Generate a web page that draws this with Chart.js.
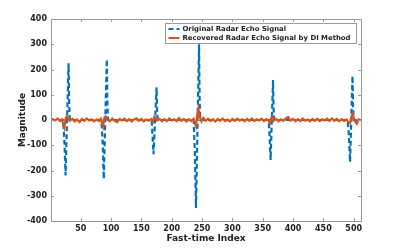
<!DOCTYPE html>
<html><head><meta charset="utf-8">
<script src="https://cdn.jsdelivr.net/npm/chart.js@4/dist/chart.umd.min.js"></script>
<style>html,body{margin:0;padding:0;background:#fff}#wrap{width:399px;height:249px}</style>
</head><body><div id="wrap"><canvas id="c" width="399" height="249"></canvas></div>
<script>
const seriesNames = ["Original Radar Echo Signal", "Recovered Radar Echo Signal by DI Method"];
const xTicks = [50,100,150,200,250,300,350,400,450,500];
const yTicks = [-400,-300,-200,-100,0,100,200,300,400];
const xLabel = "Fast-time Index";
const yLabel = "Magnitude";

const originalX = [1,21,23,25,30,31,32,84,86,88,93,94,95,167,168,170,175,176,177,236,238,240,245,246,247,360,361,363,367,368,369,490,492,494,498,499,500,512];
const originalY = [0,0,-80,-220,225,60,0,0,-80,-233,240,60,0,0,-50,-135,130,30,0,0,-120,-348,300,80,0,0,-50,-158,158,40,0,0,-60,-166,174,50,0,0];

const recoveredX = [1,4,8,12,16,19,21,23,25,27,29,32,36,40,44,48,52,56,60,64,68,72,76,80,83,85,87,89,91,94,98,102,106,110,114,118,122,126,130,134,138,142,146,150,154,158,162,166,169,171,173,176,180,184,188,192,196,200,204,208,212,216,220,224,228,232,236,238,240,242,244,246,249,252,256,260,264,268,272,276,280,284,288,292,296,300,304,308,312,316,320,324,328,332,336,340,344,348,352,356,360,362,364,366,368,372,376,380,384,388,392,396,400,404,408,412,416,420,424,428,432,436,440,444,448,452,456,460,464,468,472,476,480,484,488,491,494,496,498,500,502,505,508,512];
const recoveredY = [-5,3,-2,6,-4,2,-15,-30,5,15,8,-3,5,-6,2,-8,4,-3,6,-2,3,-5,2,-4,5,-10,-25,10,14,2,-5,6,-3,-8,4,-2,5,-4,3,-6,2,7,-3,4,-5,2,-3,4,-6,12,10,-2,4,-5,3,-4,6,-2,3,-5,8,-3,4,-6,3,-4,5,-12,-25,20,45,15,-5,8,-3,5,-4,3,-6,4,-3,6,-4,2,-5,4,-3,5,-2,3,-5,4,-3,6,-4,3,-2,5,-4,3,-5,-12,8,12,-3,4,-5,3,-3,6,12,-2,4,-5,3,-4,6,-3,2,-5,4,-3,5,-4,3,-2,5,-4,6,-3,4,-5,3,-4,2,-8,-12,10,25,10,-5,-15,3,-2];

const BLUE = '#0072BD', ORANGE = '#D95319';
const FONT = "'DejaVu Sans', sans-serif";

const overlay = {
  id: 'overlay',
  afterDraw(chart) {
    const ctx = chart.ctx, a = chart.chartArea;
    const xs = chart.scales.x, ys = chart.scales.y;
    ctx.save();
    ctx.strokeStyle = '#9a9a9a';
    ctx.lineWidth = 1;
    ctx.strokeRect(Math.round(a.left)+0.5, Math.round(a.top)+0.5, Math.round(a.right-a.left), Math.round(a.bottom-a.top));
    ctx.beginPath();
    const tl = 3;
    xTicks.forEach(v => {
      const px = Math.round(xs.getPixelForValue(v)) + 0.5;
      ctx.moveTo(px, a.bottom); ctx.lineTo(px, a.bottom - tl);
      ctx.moveTo(px, a.top); ctx.lineTo(px, a.top + tl);
    });
    yTicks.forEach(v => {
      const py = Math.round(ys.getPixelForValue(v)) + 0.5;
      ctx.moveTo(a.left, py); ctx.lineTo(a.left + tl, py);
      ctx.moveTo(a.right, py); ctx.lineTo(a.right - tl, py);
    });
    ctx.stroke();
    // axis titles
    ctx.fillStyle = '#222';
    ctx.font = "bold 9px " + FONT;
    ctx.textAlign = 'center'; ctx.textBaseline = 'middle';
    ctx.fillText(xLabel, (a.left + a.right)/2, 239);
    ctx.save();
    ctx.translate(23, (a.top + a.bottom)/2);
    ctx.rotate(-Math.PI/2);
    ctx.fillText(yLabel, 0, 0);
    ctx.restore();
    // legend
    const lx = 165.5, ly = 23.5, lw = 191, lh = 20;
    ctx.fillStyle = '#fff';
    ctx.fillRect(lx, ly, lw, lh);
    ctx.strokeStyle = '#9a9a9a';
    ctx.strokeRect(lx, ly, lw, lh);
    const rows = [ly + 5.5, ly + 14.5];
    chart.data.datasets.forEach((ds, i) => {
      ctx.beginPath();
      ctx.strokeStyle = ds.borderColor;
      ctx.lineWidth = 2;
      ctx.setLineDash(ds.borderDash || []);
      ctx.moveTo(lx + 3, rows[i]); ctx.lineTo(lx + 14, rows[i]);
      ctx.stroke();
      ctx.setLineDash([]);
      ctx.fillStyle = '#222';
      ctx.font = "bold 6.9px " + FONT;
      ctx.textAlign = 'left';
      ctx.fillText(ds.label, lx + 17, rows[i] + 0.5);
    });
    ctx.restore();
  }
};

const toPts = (xs, ys) => xs.map((x, i) => ({x: x, y: ys[i]}));

new Chart(document.getElementById('c'), {
  type: 'line',
  data: {
    datasets: [
      { label: seriesNames[0], data: toPts(originalX, originalY), borderColor: BLUE, borderWidth: 2.2, borderDash: [5,3], pointRadius: 0, tension: 0, order: 1 },
      { label: seriesNames[1], data: toPts(recoveredX, recoveredY), borderColor: ORANGE, borderWidth: 2.2, pointRadius: 0, tension: 0, order: 0 }
    ]
  },
  options: {
    responsive: false,
    animation: false,
    layout: { padding: { left: 0, right: 38, top: 19, bottom: 0 } },
    plugins: { legend: { display: false }, tooltip: { enabled: false } },
    scales: {
      x: {
        type: 'linear', min: 1, max: 512,
        afterBuildTicks: s => { s.ticks = xTicks.map(v => ({value: v})); },
        afterFit: s => { s.height = 28; },
        grid: { display: false, drawTicks: false },
        border: { display: false },
        ticks: { color: '#222', font: { family: FONT, size: 8, weight: 'bold' }, padding: 3, maxRotation: 0 }
      },
      y: {
        type: 'linear', min: -400, max: 400,
        afterBuildTicks: s => { s.ticks = yTicks.map(v => ({value: v})); },
        afterFit: s => { s.width = 51; },
        grid: { display: false, drawTicks: false },
        border: { display: false },
        ticks: { color: '#222', font: { family: FONT, size: 8, weight: 'bold' }, padding: 4 }
      }
    }
  },
  plugins: [overlay]
});
</script>
</body></html>
